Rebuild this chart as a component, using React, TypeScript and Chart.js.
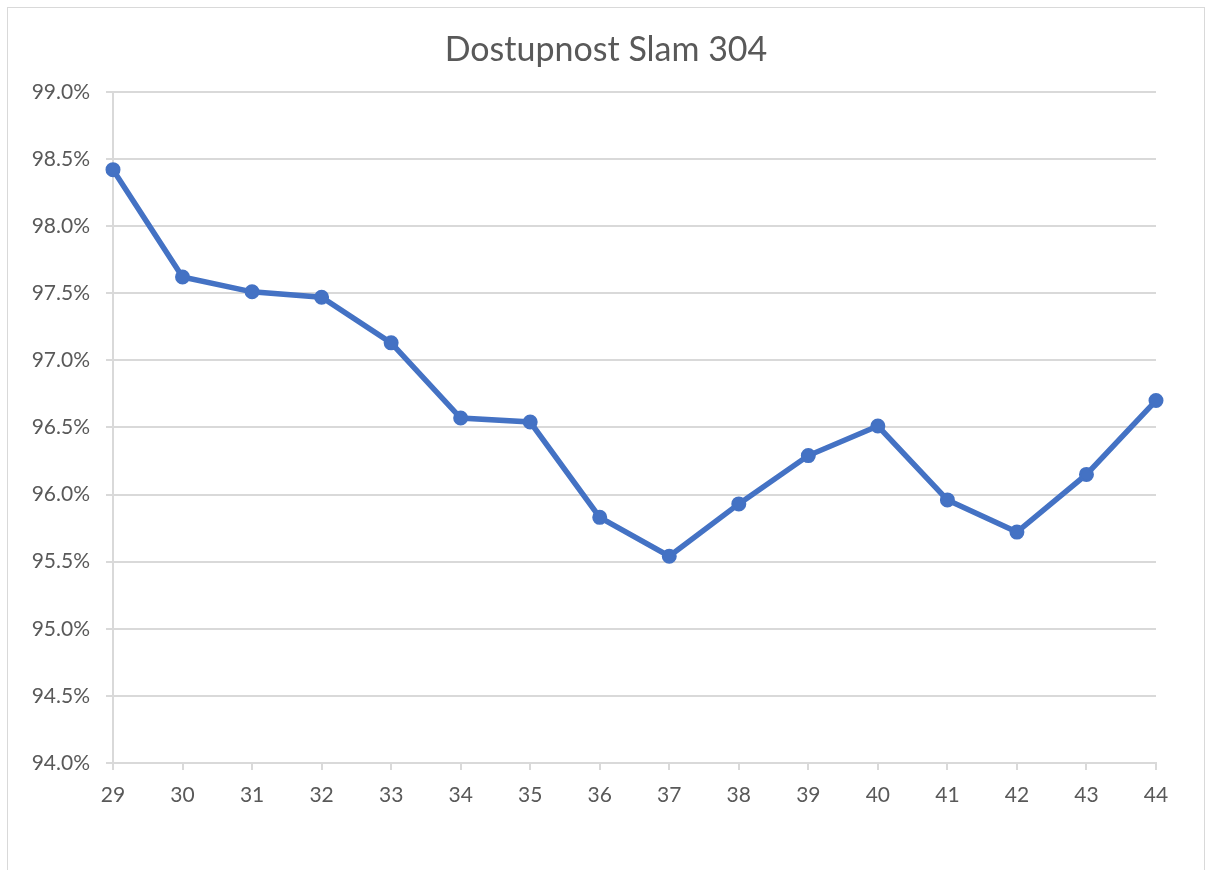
import React, { useEffect, useRef } from "react";
import { Chart, registerables } from "chart.js";

Chart.register(...registerables);

const weeks = ["29", "30", "31", "32", "33", "34", "35", "36", "37", "38", "39", "40", "41", "42", "43", "44"];
const availability = [98.42, 97.62, 97.51, 97.47, 97.13, 96.57, 96.54, 95.83, 95.54, 95.93, 96.29, 96.51, 95.96, 95.72, 96.15, 96.70];
const titleText = "Dostupnost Slam 304";

const FONT = "Lato";
const TEXT = "#595959";
const GRID = "#d9d9d9";
const LINE = "#4472C4";

export default function App() {
  const ref = useRef<HTMLCanvasElement | null>(null);
  useEffect(() => {
    if (!ref.current) return;
    const chart = new Chart(ref.current, {
      type: "line",
      data: {
        labels: weeks,
        datasets: [
          {
            data: availability,
            borderColor: LINE,
            backgroundColor: LINE,
            borderWidth: 5.5,
            pointRadius: 6.5,
            pointBorderWidth: 2,
            pointBackgroundColor: LINE,
            pointBorderColor: LINE,
            tension: 0,
          },
        ],
      },
      options: {
        responsive: false,
        animation: false,
        layout: { padding: { left: 0, right: 0, top: 0, bottom: 0 } },
        plugins: {
          legend: { display: false },
          tooltip: { enabled: false },
          title: {
            display: true,
            text: titleText,
            color: TEXT,
            font: { family: FONT, size: 34, weight: "normal" },
            padding: { top: 22, bottom: 21 },
          },
        },
        scales: {
          x: {
            type: "category",
            offset: false,
            grid: { display: true, drawOnChartArea: false, drawTicks: true, tickLength: 7, color: GRID, lineWidth: 2 },
            border: { display: true, color: GRID, width: 2 },
            ticks: { color: TEXT, font: { family: FONT, size: 21 }, padding: 13, maxRotation: 0, autoSkip: false },
            afterFit: (s: any) => { s.height = 106; },
          },
          y: {
            min: 94,
            max: 99,
            grid: { color: GRID, lineWidth: 2, drawTicks: true, tickLength: 7 },
            border: { display: true, color: GRID, width: 2 },
            ticks: {
              stepSize: 0.5,
              color: TEXT,
              font: { family: FONT, size: 21 },
              padding: 16,
              callback: (v: any) => Number(v).toFixed(1) + "%",
            },
            afterFit: (s: any) => { s.width = 105; },
          },
          yRight: {
            position: "right",
            min: 94,
            max: 99,
            grid: { display: false, drawOnChartArea: false },
            border: { display: false },
            ticks: { display: false },
            afterFit: (s: any) => { s.width = 48; },
          },
        },
      },
    });
    return () => chart.destroy();
  }, []);
  return (
    <div
      style={{
        position: "absolute",
        left: 7,
        top: 7,
        width: 1196,
        height: 875,
        border: "1px solid #d9d9d9",
        background: "#fff",
      }}
    >
      <canvas ref={ref} width={1196} height={861} style={{ display: "block" }} />
    </div>
  );
}
